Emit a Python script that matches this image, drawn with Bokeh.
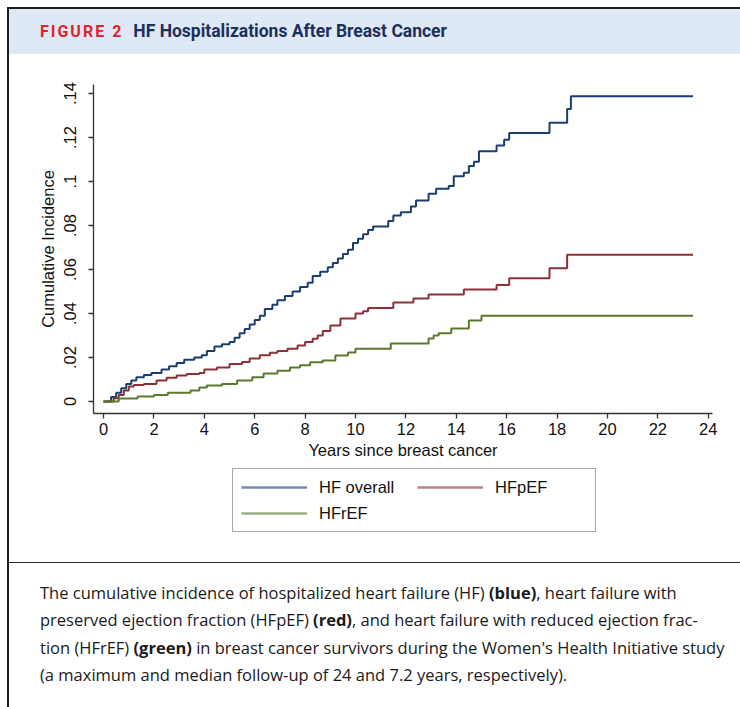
from bokeh.plotting import figure
from bokeh.models import Div, Legend, LegendItem, FixedTicker, Range1d
from bokeh.layouts import column
from bokeh.embed import file_html
from bokeh.resources import INLINE

# ---- data: step points (years since breast cancer, cumulative incidence) ----
hf_years = [0, 0.3, 0.5, 0.7, 0.9, 1.1, 1.3, 1.6, 1.9, 2.3, 2.6, 2.9, 3.2, 3.6, 3.9,
            4.1, 4.4, 4.7, 5.0, 5.2, 5.4, 5.6, 5.8, 6.0, 6.2, 6.4, 6.7, 6.9, 7.2, 7.5,
            7.8, 8.1, 8.3, 8.6, 8.9, 9.1, 9.3, 9.5, 9.7, 9.9, 10.1, 10.3, 10.5, 10.7,
            11.3, 11.5, 11.8, 12.2, 12.4, 12.9, 13.2, 13.7, 13.9, 14.3, 14.5, 14.7,
            14.9, 15.6, 15.9, 16.1, 17.7, 18.4, 18.55, 23.4]
hf_inc = [0, 0.002, 0.004, 0.006, 0.008, 0.0095, 0.011, 0.012, 0.013, 0.0145, 0.016,
          0.0175, 0.019, 0.020, 0.021, 0.023, 0.025, 0.026, 0.027, 0.029, 0.031, 0.033,
          0.035, 0.037, 0.039, 0.042, 0.044, 0.046, 0.048, 0.050, 0.052, 0.054, 0.057,
          0.059, 0.061, 0.063, 0.065, 0.067, 0.069, 0.072, 0.074, 0.076, 0.078, 0.0795,
          0.082, 0.0845, 0.086, 0.0886, 0.0914, 0.0944, 0.0967, 0.098, 0.1024, 0.104,
          0.107, 0.109, 0.1138, 0.1164, 0.119, 0.1221, 0.1267, 0.133, 0.1388, 0.1388]

hfpef_years = [0, 0.4, 0.6, 0.8, 1.0, 1.2, 1.6, 2.1, 2.5, 2.9, 3.3, 3.8, 4.0, 4.5, 5.0,
               5.5, 5.8, 6.2, 6.6, 6.9, 7.3, 7.7, 8.0, 8.3, 8.5, 8.7, 9.0, 9.4, 10.0,
               10.3, 10.5, 11.5, 12.3, 12.9, 14.3, 15.6, 16.1, 17.7, 18.4, 23.4]
hfpef_inc = [0, 0.0015, 0.003, 0.005, 0.0068, 0.0075, 0.008, 0.0095, 0.0108, 0.0118,
             0.0125, 0.013, 0.0145, 0.0155, 0.017, 0.018, 0.0195, 0.021, 0.0222, 0.023,
             0.024, 0.0255, 0.027, 0.0285, 0.030, 0.032, 0.0345, 0.0377, 0.040, 0.041,
             0.0425, 0.045, 0.0468, 0.0486, 0.0509, 0.053, 0.056, 0.0606, 0.0667, 0.0667]

hfref_years = [0, 0.6, 1.35, 2.0, 2.55, 3.45, 3.8, 4.1, 4.7, 5.3, 5.9, 6.35, 6.9, 7.4,
               7.8, 8.2, 8.7, 9.2, 9.7, 10.0, 11.4, 12.9, 13.1, 13.3, 13.8, 14.5, 15.0, 23.4]
hfref_inc = [0, 0.0014, 0.0023, 0.003, 0.004, 0.005, 0.0064, 0.0073, 0.008, 0.0095,
             0.011, 0.0127, 0.014, 0.0155, 0.0165, 0.0178, 0.0186, 0.0209, 0.0223, 0.024,
             0.0264, 0.0286, 0.030, 0.031, 0.0332, 0.0368, 0.039, 0.039]

series_names = ["HF overall", "HFpEF", "HFrEF"]
series_colors = ["#1a3f6f", "#8f2f38", "#587a2e"]

x_ticks = [0, 2, 4, 6, 8, 10, 12, 14, 16, 18, 20, 22, 24]
y_ticks = [0, 0.02, 0.04, 0.06, 0.08, 0.1, 0.12, 0.14]
y_tick_labels = ["0", ".02", ".04", ".06", ".08", ".1", ".12", ".14"]

AX_FONT = "Liberation Sans"
W = 731
series = [(hf_years, hf_inc), (hfpef_years, hfpef_inc), (hfref_years, hfref_inc)]

# ---------------- main plot ----------------
p = figure(width=W, height=411, output_backend="svg", toolbar_location=None,
           x_range=Range1d(-0.4, 24.17), y_range=Range1d(-0.00545, 0.1441),
           min_border_left=84, min_border_right=28, min_border_top=30,
           min_border_bottom=52)
p.outline_line_color = None
p.xgrid.visible = False
p.ygrid.visible = False
p.background_fill_color = "white"
p.border_fill_color = "white"

for (xs, ys), c in zip(series, series_colors):
    p.step(xs, ys, mode="after", line_color=c, line_width=2)

p.xaxis.ticker = FixedTicker(ticks=x_ticks)
p.yaxis.ticker = FixedTicker(ticks=y_ticks)
p.yaxis.major_label_overrides = {t: l for t, l in zip(y_ticks, y_tick_labels)}
for ax in (p.xaxis, p.yaxis):
    ax.minor_tick_line_color = None
    ax.major_tick_in = 0
    ax.major_tick_out = 5
    ax.major_tick_line_color = "#333333"
    ax.major_tick_line_width = 1.3
    ax.axis_line_color = "#333333"
    ax.axis_line_width = 1.3
    ax.major_label_text_font = AX_FONT
    ax.major_label_text_font_size = "16.5px"
    ax.major_label_text_color = "#111111"
    ax.axis_label_text_font = AX_FONT
    ax.axis_label_text_font_size = "16.5px"
    ax.axis_label_text_font_style = "normal"
    ax.axis_label_text_color = "#111111"

p.xaxis.axis_label = "Years since breast cancer"
p.xaxis.major_label_standoff = 4
p.xaxis.axis_label_standoff = 3
p.yaxis.axis_label = "Cumulative Incidence"
p.yaxis.major_label_orientation = "parallel"
p.yaxis.major_label_standoff = 12
p.yaxis.axis_label_standoff = 5

# ---------------- legend strip (frame aligned with the main plot's frame) ----------------
lf = figure(width=W, height=97, output_backend="svg", toolbar_location=None,
            x_range=Range1d(0, 1), y_range=Range1d(1, 2),
            x_axis_location=None, y_axis_location=None, min_border=0)
lf.outline_line_color = None
lf.grid.visible = False
lf.background_fill_color = "white"
lf.border_fill_color = "white"
# same series, outside the strip's visible range: only their legend keys show
key_renderers = [lf.line(xs, ys, line_color=c, line_width=2.5, line_alpha=0.6)
                 for (xs, ys), c in zip(series, series_colors)]

legend = Legend(items=[LegendItem(label=n, renderers=[r]) for n, r in zip(series_names, key_renderers)],
                orientation="horizontal", ncols=2, location=(139, 30),
                glyph_width=66, glyph_height=20, label_standoff=12, label_width=92,
                spacing=6, padding=8, margin=0,
                label_text_font=AX_FONT, label_text_font_size="16.5px",
                label_text_color="#111111",
                border_line_color="#555555", border_line_width=1.5,
                background_fill_color="white")
lf.add_layout(legend, "center")

# ---------------- header / caption ----------------
header = Div(width=W, height=45, margin=0, text=(
    '<div style="width:731px;height:45px;background:#dfe9f5;box-sizing:border-box;'
    'padding-left:31px;line-height:45px;white-space:nowrap;font-family:Roboto;font-weight:700;">'
    '<span style="color:#e3232c;font-size:16px;letter-spacing:2px;">FIGURE 2</span>'
    '<span style="display:inline-block;width:10px;"></span>'
    '<span style="color:#1b2f5e;font-size:17.5px;">HF Hospitalizations After Breast Cancer</span>'
    '</div>'))

caption = Div(width=W, height=145, margin=0, text=(
    '<div style="width:731px;height:145px;box-sizing:border-box;border-top:1.5px solid #2a2a2a;'
    'padding:15.5px 0 0 31px;font-family:\'Open Sans\';font-size:16.5px;line-height:27.5px;color:#1a1a1a;white-space:nowrap;">'
    'The cumulative incidence of hospitalized heart failure (HF) <b>(blue)</b>, heart failure with<br>'
    'preserved ejection fraction (HFpEF) <b>(red)</b>, and heart failure with reduced ejection frac-<br>'
    'tion (HFrEF) <b>(green)</b> in breast cancer survivors during the Women\'s Health Initiative study<br>'
    '(a maximum and median follow-up of 24 and 7.2 years, respectively).'
    '</div>'))

layout = column(header, p, lf, caption, spacing=0, margin=(7, 0, 0, 7),
                styles={"border-left": "2px solid #1e1e1e", "border-top": "2px solid #1e1e1e"})

open("out.html", "w").write(file_html(layout, INLINE))
